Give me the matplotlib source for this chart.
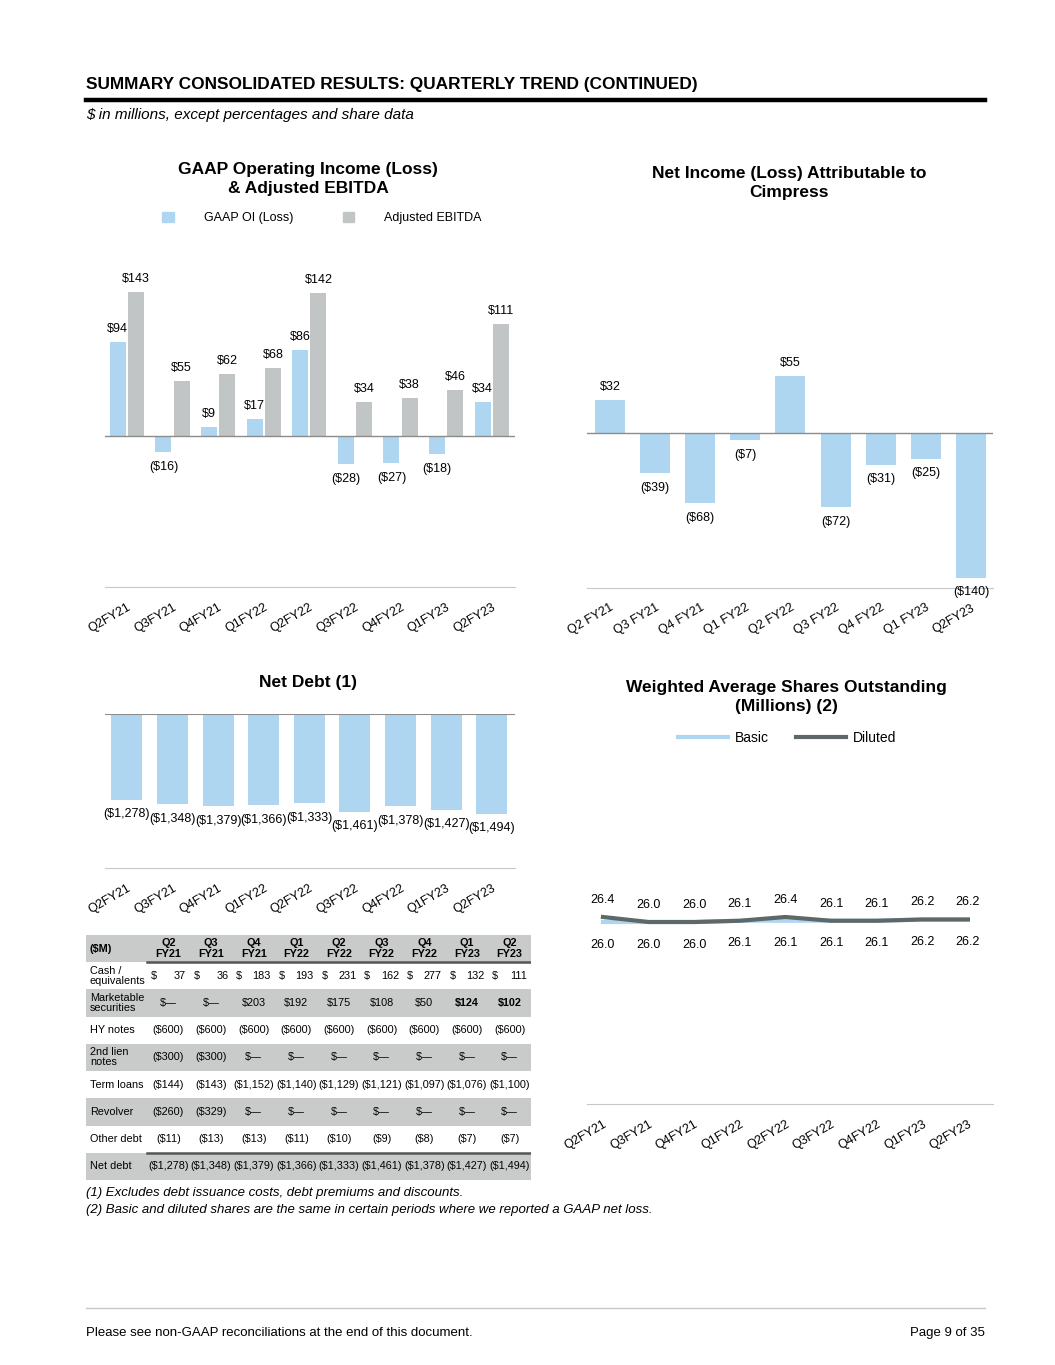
import numpy as np
import matplotlib

matplotlib.use('Agg')
import matplotlib.pyplot as plt
from matplotlib.patches import Rectangle, Patch
from matplotlib.lines import Line2D

plt.rcParams['font.family'] = ['Liberation Sans', 'DejaVu Sans']

W, H = 1055, 1365

quarters = ["Q2FY21", "Q3FY21", "Q4FY21", "Q1FY22", "Q2FY22", "Q3FY22", "Q4FY22", "Q1FY23", "Q2FY23"]
quarters_sp = ["Q2 FY21", "Q3 FY21", "Q4 FY21", "Q1 FY22", "Q2 FY22", "Q3 FY22", "Q4 FY22", "Q1 FY23", "Q2FY23"]
table_cols = ["Q2\nFY21", "Q3\nFY21", "Q4\nFY21", "Q1\nFY22", "Q2\nFY22", "Q3\nFY22", "Q4\nFY22", "Q1\nFY23", "Q2\nFY23"]

gaap_oi = [94, -16, 9, 17, 86, -28, -27, -18, 34]
adj_ebitda = [143, 55, 62, 68, 142, 34, 38, 46, 111]
net_income = [32, -39, -68, -7, 55, -72, -31, -25, -140]
net_debt = [-1278, -1348, -1379, -1366, -1333, -1461, -1378, -1427, -1494]
shares_basic = [26.0, 26.0, 26.0, 26.1, 26.1, 26.1, 26.1, 26.2, 26.2]
shares_diluted = [26.4, 26.0, 26.0, 26.1, 26.4, 26.1, 26.1, 26.2, 26.2]

cash = [37, 36, 183, 193, 231, 162, 277, 132, 111]
marketable = [None, None, 203, 192, 175, 108, 50, 124, 102]
hy_notes = [-600, -600, -600, -600, -600, -600, -600, -600, -600]
second_lien = [-300, -300, None, None, None, None, None, None, None]
term_loans = [-144, -143, -1152, -1140, -1129, -1121, -1097, -1076, -1100]
revolver = [-260, -329, None, None, None, None, None, None, None]
other_debt = [-11, -13, -13, -11, -10, -9, -8, -7, -7]

BLUE = '#aed6f1'
GRAY = '#c1c5c5'
DARK = '#5f6868'
LINE = '#8c8c8c'
LIGHTLINE = '#c8c8c8'


def money(v):
    if v is None:
        return "$\u2014"
    if v < 0:
        return "(${:,})".format(-v)
    return "${:,}".format(v)


def add_ax(fig, x0, y0, x1, y1):
    return fig.add_axes([x0 / W, 1 - y1 / H, (x1 - x0) / W, (y1 - y0) / H])


def style_ax(ax, labels):
    for s in ['top', 'left', 'right']:
        ax.spines[s].set_visible(False)
    ax.spines['bottom'].set_color(LIGHTLINE)
    ax.set_yticks([])
    ax.set_xticks(range(len(labels)))
    ax.set_xticklabels(labels, rotation=30, ha='right', rotation_mode='anchor', fontsize=9)
    ax.tick_params(axis='x', length=0, pad=10)


def ftext(fig, x, y, s, **kw):
    fig.text(x / W, 1 - y / H, s, **kw)


fig = plt.figure(figsize=(W / 100, H / 100), dpi=100)

# header
ftext(fig, 86, 84, "SUMMARY CONSOLIDATED RESULTS: QUARTERLY TREND (CONTINUED)",
      fontsize=12.4, fontweight='bold', va='center')
fig.add_artist(Line2D([86 / W, 985 / W], [1 - 100 / H] * 2, color='black', lw=3.2))
ftext(fig, 86, 115, "$ in millions, except percentages and share data",
      fontsize=11, style='italic', va='center')

x = np.arange(9)

# GAAP OI & Adjusted EBITDA
ax1 = add_ax(fig, 105, 250, 515, 587)
ax1.bar(x - 0.2, gaap_oi, width=0.35, color=BLUE)
ax1.bar(x + 0.2, adj_ebitda, width=0.35, color=GRAY)
ax1.axhline(0, color=LINE, lw=1)
ax1.set_xlim(-0.48, 8.51)
ax1.set_ylim(-150, 185)
style_ax(ax1, quarters)
for i in range(9):
    for off, v in [(-0.2, gaap_oi[i]), (0.2, adj_ebitda[i])]:
        if v >= 0:
            ax1.annotate(money(v), (i + off, v), xytext=(0, 5), textcoords='offset points',
                         ha='center', va='bottom', fontsize=9)
        else:
            ax1.annotate(money(v), (i + off, v), xytext=(0, -6), textcoords='offset points',
                         ha='center', va='top', fontsize=9)
ftext(fig, 308, 179, "GAAP Operating Income (Loss)\n& Adjusted EBITDA", fontsize=12.5,
      fontweight='bold', ha='center', va='center', linespacing=1.35)
fig.legend(handles=[Patch(color=BLUE, label="GAAP OI (Loss)"), Patch(color=GRAY, label="Adjusted EBITDA")],
           loc='center', bbox_to_anchor=(322 / W, 1 - 218 / H), ncol=2, frameon=False, fontsize=9,
           handlelength=0.9, handleheight=0.9, handletextpad=2.4, columnspacing=4.0)

# Net income
ax2 = add_ax(fig, 587, 250, 993, 588)
ax2.bar(x, net_income, width=0.665, color=BLUE)
ax2.axhline(0, color=LINE, lw=1)
ax2.set_xlim(-0.51, 8.49)
ax2.set_ylim(-150, 177)
style_ax(ax2, quarters_sp)
for i, v in enumerate(net_income):
    if v >= 0:
        ax2.annotate(money(v), (i, v), xytext=(0, 5), textcoords='offset points',
                     ha='center', va='bottom', fontsize=9)
    else:
        ax2.annotate(money(v), (i, v), xytext=(0, -6), textcoords='offset points',
                     ha='center', va='top', fontsize=9)
ftext(fig, 789, 183, "Net Income (Loss) Attributable to\nCimpress", fontsize=12.5,
      fontweight='bold', ha='center', va='center', linespacing=1.35)

# Net debt
ax3 = add_ax(fig, 105, 714, 515, 868)
ax3.bar(x, net_debt, width=0.68, color=BLUE)
ax3.axhline(0, color=LINE, lw=1.5)
ax3.set_xlim(-0.48, 8.51)
ax3.set_ylim(-2300, 0)
style_ax(ax3, quarters)
for i, v in enumerate(net_debt):
    ax3.annotate(money(v), (i, v), xytext=(0, -6), textcoords='offset points',
                 ha='center', va='top', fontsize=9)
ftext(fig, 308, 683, "Net Debt (1)", fontsize=12.5, fontweight='bold', ha='center', va='center')

# Shares
ax4 = add_ax(fig, 587, 760, 993, 1104)
ax4.plot(x, shares_basic, color=BLUE, lw=3, label="Basic")
ax4.plot(x, shares_diluted, color=DARK, lw=3, label="Diluted")
ax4.set_xlim(-0.35, 8.55)
ax4.set_ylim(11.44, 38.96)
style_ax(ax4, quarters)
for i in range(9):
    ax4.annotate("{:.1f}".format(shares_diluted[i]), (i, shares_diluted[i]), xytext=(0, 8),
                 textcoords='offset points', ha='center', va='bottom', fontsize=9)
    ax4.annotate("{:.1f}".format(shares_basic[i]), (i, shares_basic[i]), xytext=(0, -12),
                 textcoords='offset points', ha='center', va='top', fontsize=9)
ftext(fig, 786, 697, "Weighted Average Shares Outstanding\n(Millions) (2)", fontsize=12.5,
      fontweight='bold', ha='center', va='center', linespacing=1.35)
fig.legend(handles=ax4.get_lines(), loc='center', bbox_to_anchor=(787 / W, 1 - 738 / H), ncol=2,
           frameon=False, fontsize=10, handlelength=3.6, handletextpad=0.45, columnspacing=2.0)

# Table
tx0, tx1, ty0, ty1 = 86, 531, 935, 1180
axt = add_ax(fig, tx0, ty0, tx1, ty1)
axt.set_xlim(tx0, tx1)
axt.set_ylim(ty1, ty0)
axt.axis('off')
row_labels = ["Cash /\nequivalents", "Marketable\nsecurities", "HY notes", "2nd lien\nnotes",
              "Term loans", "Revolver", "Other debt", "Net debt"]
row_data = [cash, marketable, hy_notes, second_lien, term_loans, revolver, other_debt, net_debt]
col_w = (tx1 - 147) / 9
head_h = 27
row_h = (ty1 - ty0 - head_h) / 8
TGRAY = '#c9cbcb'
FS = 7.8
axt.add_patch(Rectangle((tx0, ty0), tx1 - tx0, head_h, color=TGRAY, lw=0))
axt.text(tx0 + 4, ty0 + head_h / 2, "($M)", fontsize=FS, fontweight='bold', va='center')
for j, c in enumerate(table_cols):
    axt.text(147 + col_w * (j + 0.5), ty0 + head_h / 2, c, fontsize=FS, fontweight='bold',
             ha='center', va='center', linespacing=1.05)
for r, (lab, vals) in enumerate(zip(row_labels, row_data)):
    y0 = ty0 + head_h + r * row_h
    yc = y0 + row_h / 2
    if r % 2 == 1:
        axt.add_patch(Rectangle((tx0, y0), tx1 - tx0, row_h, color=TGRAY, lw=0))
    axt.text(tx0 + 4, yc, lab, fontsize=FS, va='center', linespacing=1.0)
    for j, v in enumerate(vals):
        cx = 147 + col_w * j
        if r == 0:
            axt.text(cx + 4, yc, "$", fontsize=FS, va='center')
            axt.text(cx + col_w - 4, yc, "{:,}".format(v), fontsize=FS, va='center', ha='right')
        else:
            bold = (r == 1 and j >= 7)
            axt.text(cx + col_w / 2, yc, money(v), fontsize=FS, va='center', ha='center',
                     fontweight='bold' if bold else 'normal')
axt.plot([147, tx1], [ty0 + head_h, ty0 + head_h], color='#555555', lw=1.8)
axt.plot([147, tx1], [ty0 + head_h + 7 * row_h] * 2, color='#555555', lw=1.8)

# footnotes
ftext(fig, 86, 1193, "(1) Excludes debt issuance costs, debt premiums and discounts.",
      fontsize=9.5, style='italic', va='center')
ftext(fig, 86, 1210, "(2) Basic and diluted shares are the same in certain periods where we reported a GAAP net loss.",
      fontsize=9.5, style='italic', va='center')

# footer
fig.add_artist(Line2D([86 / W, 985 / W], [1 - 1308 / H] * 2, color=LIGHTLINE, lw=1))
ftext(fig, 86, 1333, "Please see non-GAAP reconciliations at the end of this document.", fontsize=9.5, va='center')
ftext(fig, 985, 1333, "Page 9 of 35", fontsize=9.5, va='center', ha='right')

fig.savefig("out.png", dpi=100)
plt.close(fig)
